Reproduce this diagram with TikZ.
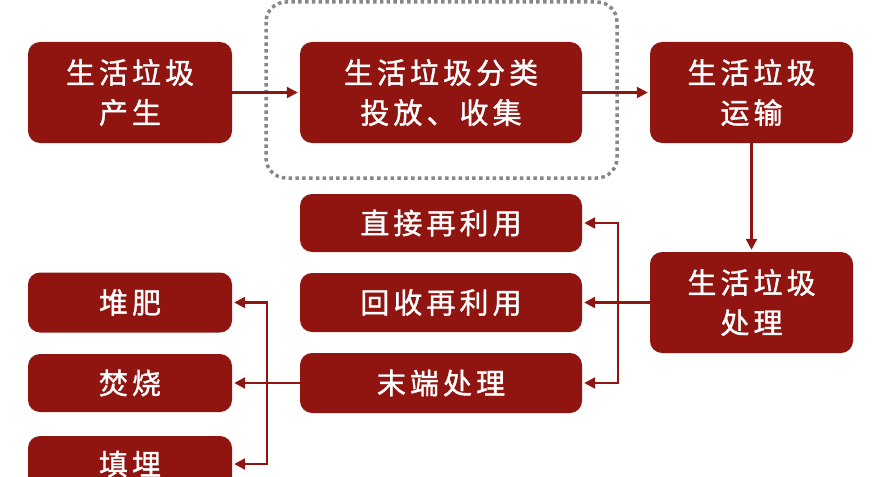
\documentclass[tikz,border=0pt]{standalone}
\usepackage{fontspec}
\newfontfamily\cjk{Noto Sans CJK SC}[LetterSpace=14, FakeBold=1.2]
\usetikzlibrary{arrows.meta}
\definecolor{boxred}{RGB}{144,20,16}
\definecolor{dotgray}{RGB}{135,135,135}
\tikzset{
  box/.style={draw=none, fill=boxred, rounded corners=12pt, text=white,
    font=\cjk\fontsize{29}{40}\selectfont, align=center, inner sep=0pt},
  conn/.style={draw=boxred, line width=2.4pt, -{Triangle[length=11pt,width=11pt]}, shorten >=2pt},
  plain/.style={draw=boxred, line width=2.4pt},
}
\begin{document}
\begin{tikzpicture}[x=1pt,y=-1pt]
\useasboundingbox (0,0) rectangle (890,476);
\clip (0,0) rectangle (890,476);
\fill[white] (0,0) rectangle (890,476);
\draw[dotgray, line width=3.5pt, dash pattern=on 3.5pt off 3.3pt, rounded corners=20pt] (266,2) rectangle (617,178);
\node[box, minimum width=204pt, minimum height=101pt] (a) at (130,92.5) {生活垃圾\\产生};
\node[box, minimum width=282pt, minimum height=101pt] (b) at (441,92.5) {生活垃圾分类\\投放、收集};
\node[box, minimum width=203pt, minimum height=101pt] (c) at (751.5,92.5) {生活垃圾\\运输};
\node[box, minimum width=203pt, minimum height=101pt] (d) at (751.5,302.5) {生活垃圾\\处理};
\node[box, minimum width=282pt, minimum height=58pt] (e) at (441,223) {直接再利用};
\node[box, minimum width=282pt, minimum height=59pt] (f) at (441,302.5) {回收再利用};
\node[box, minimum width=282pt, minimum height=60pt] (g) at (441,383) {末端处理};
\node[box, minimum width=204pt, minimum height=60pt] (h) at (130,302.5) {堆肥};
\node[box, minimum width=204pt, minimum height=58pt] (i) at (130,383) {焚烧};
\node[box, minimum width=204pt, minimum height=56pt] (j) at (130,464) {填埋};
\coordinate (j1) at (618,302.5);
\coordinate (j2) at (267,383);
\draw[conn] (a.east) -- (b.west);
\draw[conn] (b.east) -- (c.west);
\draw[conn] (c) -- (d);
\draw[plain] (d.west) -- (j1);
\draw[conn] (j1) |- (e.east);
\draw[conn] (j1) -- (f.east);
\draw[conn] (j1) |- (g.east);
\draw[plain] (g.west) -- (j2);
\draw[conn] (j2) |- (h.east);
\draw[conn] (j2) -- (i.east);
\draw[conn] (j2) |- (j.east);
\end{tikzpicture}
\end{document}
